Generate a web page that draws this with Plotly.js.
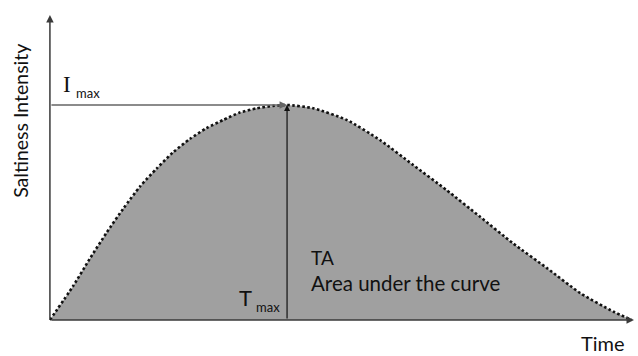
<!DOCTYPE html>
<html>
<head>
<meta charset="utf-8">
<script src="https://cdn.plot.ly/plotly-3.0.1.min.js"></script>
<style>
  body { margin: 0; background: #fff; }
  #plot { width: 638px; height: 356px; }
</style>
</head>
<body>
<div id="plot"></div>
<script>
// time (arbitrary units) and saltiness intensity
let time = [0, 4.0, 6.8, 9.7, 12.6, 15.4, 18.3, 21.1, 24.0, 26.8, 29.7, 32.5, 35.4, 38.2, 40.6,
            45.1, 50.8, 56.5, 62.2, 67.9, 73.6, 79.3, 85.1, 90.8, 96.5, 99.6];
let intensity = [0, 11.2, 20.0, 28.6, 36.6, 43.7, 49.7, 55.0, 59.4, 62.9, 65.6, 68.0, 69.4, 70.2, 70.5,
                 69.4, 65.6, 59.0, 50.8, 42.6, 33.9, 25.1, 17.0, 8.8, 2.7, 0];

// peak point
let tMax = 40.6;
let iMax = 70.5;

let trace1 = {
    x: time,
    y: intensity,
    type: "scatter",
    mode: "lines",
    fill: "tozeroy",
    fillcolor: "#a0a0a0",
    line: {color: "#111", width: 2.6, dash: "2.6px,2.4px", shape: "spline", smoothing: 0.6},
    hoverinfo: "skip"
};

let data = [trace1];

// helper for an arrow drawn in data coordinates
function arrow(x0, y0, x1, y1, color, w) {
    return {x: x1, y: y1, ax: x0, ay: y0, xref: "x", yref: "y", axref: "x", ayref: "y",
            text: "", showarrow: true, arrowhead: 2, arrowsize: 1, arrowwidth: w,
            arrowcolor: color, standoff: 0};
}

function label(txt, x, y, size, anchor, family) {
    return {x: x, y: y, xref: "x", yref: "y", text: txt, showarrow: false,
            xanchor: anchor, yanchor: "middle",
            font: {family: family || "Lato, sans-serif", size: size, color: "#111"}};
}

let yTitle = Object.assign(label("Saltiness Intensity", -0.045, 0.655, 19.5, "center"),
                           {xref: "paper", yref: "paper", textangle: -90});
let xTitle = Object.assign(label("Time", 0.947, -0.065, 20, "center"),
                           {xref: "paper", yref: "paper"});

let annotations = [
    arrow(0, 0, 100, 0, "#3a3a3a", 1.5),        // time axis
    arrow(0, 0, 0, 100, "#3a3a3a", 1.5),        // intensity axis
    arrow(0, iMax, tMax, iMax, "#666", 1.5),    // I max line
    arrow(tMax, 0, tMax, iMax, "#111", 1.2),    // T max line
    yTitle,
    xTitle,
    label("I", 2.9, 77.2, 23, "center", "Liberation Serif, serif"),
    label("max", 6.6, 74.4, 13, "center"),
    label("T", 33.4, 7.5, 22, "center"),
    label("max", 37.3, 4.2, 13, "center"),
    label("TA", 44.3, 20.4, 19, "left"),
    label("Area under the curve", 44.3, 12.2, 20.5, "left")
];

let layout = {
    width: 638,
    height: 356,
    margin: {l: 47, r: 4, t: 15, b: 33},
    paper_bgcolor: "#fff",
    plot_bgcolor: "#fff",
    showlegend: false,
    xaxis: {range: [-0.5, 100], visible: false, fixedrange: true},
    yaxis: {range: [-1, 100], visible: false, fixedrange: true},
    annotations: annotations
};

Plotly.newPlot('plot', data, layout, {displayModeBar: false, staticPlot: true});
</script>
</body>
</html>
